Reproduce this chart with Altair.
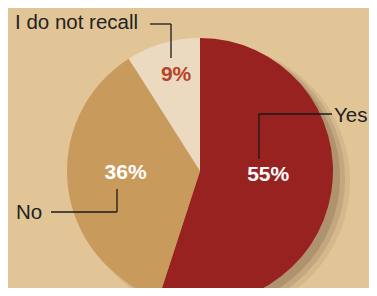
import altair as alt
import pandas as pd

# data
answers = ["Yes", "No", "I do not recall"]
shares = [55, 36, 9]
labels = ["55%", "36%", "9%"]
colors = ["#97221F", "#C89B5C", "#ECDAC0"]

df = pd.DataFrame({"answer": answers, "share": shares, "label": labels,
                   "order": [0, 1, 2]})

CX, CY, R = 192, 163, 133
FONT = "Liberation Sans"

base = alt.Chart(df)

# soft shadow behind the pie
shadow_df = pd.DataFrame({"k": [1]})
shadows = []
for off_x, off_y, rr, op in [(14, 10, 136, 0.10), (11, 8, 134, 0.16), (8, 6, 132, 0.22)]:
    shadows.append(
        alt.Chart(shadow_df).mark_arc(theta=0, theta2=6.2832, radius=rr,
                                      color="#6b4f35", opacity=op)
        .encode(x=alt.value(CX + off_x), y=alt.value(CY + off_y))
    )

pie = base.mark_arc(radius=R, stroke=None).encode(
    theta=alt.Theta("share:Q", stack=True),
    order=alt.Order("order:Q"),
    color=alt.Color("answer:N", scale=alt.Scale(domain=answers, range=colors),
                    legend=None),
    x=alt.value(CX), y=alt.value(CY),
)

def pct_layer(name, radius, color, dx, dy):
    return base.mark_text(radius=radius, font=FONT, fontWeight="bold",
                          fontSize=21, color=color, dx=dx, dy=dy,
                          baseline="middle", align="center").encode(
        theta=alt.Theta("share:Q", stack=True),
        order=alt.Order("order:Q"),
        text=alt.condition(alt.datum.answer == name, "label:N", alt.value("")),
        x=alt.value(CX), y=alt.value(CY),
    )

pcts = [
    pct_layer("Yes", 68, "#FFFFFF", 1, -7),
    pct_layer("No", 74, "#FFFFFF", -1, -7),
    pct_layer("I do not recall", 100, "#B3432B", 4, 0),
]

one = pd.DataFrame({"k": [1]})

def rule(x1, y1, x2, y2):
    return alt.Chart(one).mark_rule(color="#1a1a1a", strokeWidth=1.3).encode(
        x=alt.value(x1), y=alt.value(y1), x2=alt.value(x2), y2=alt.value(y2))

def cat_text(txt, x, y):
    return alt.Chart(one).mark_text(text=txt, font=FONT, fontSize=20.5,
                                    color="#222222", align="left",
                                    baseline="alphabetic").encode(
        x=alt.value(x), y=alt.value(y))

callouts = [
    rule(142, 16, 163, 16), rule(163, 16, 163, 50),
    rule(251, 106, 324, 106), rule(251, 106, 251, 151),
    rule(109, 181, 109, 204), rule(43, 204, 109, 204),
    cat_text("I do not recall", 7, 21),
    cat_text("Yes", 326, 114),
    cat_text("No", 8, 211),
]

chart = alt.layer(*shadows, pie, *pcts, *callouts).properties(
    width=361, height=280,
    autosize=alt.AutoSizeParams(type="fit", contains="padding"),
    padding=0,
    background="#E1C597",
).configure_view(stroke=None)

chart.save("out.html", embed_options={"renderer": "svg", "actions": False})
